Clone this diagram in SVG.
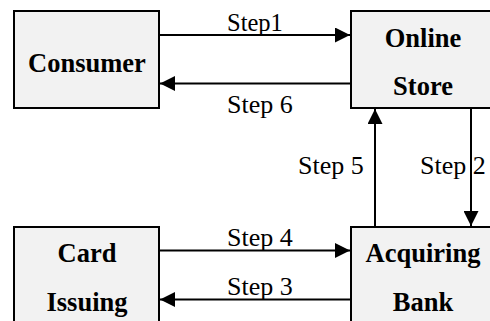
<svg xmlns="http://www.w3.org/2000/svg" width="490" height="321" viewBox="0 0 490 321">
<style>
.box{fill:#f2f2f2;stroke:#000;stroke-width:2}
.nt{font-weight:bold;font-size:26.5px;text-anchor:middle;fill:#000}
.lb{font-size:26px;fill:#000}
.cn{stroke:#000;stroke-width:2;fill:none;marker-end:url(#ah)}
</style>
<defs>
<marker id="ah" viewBox="0 0 15 15" refX="15" refY="7.5" markerWidth="15" markerHeight="15" markerUnits="userSpaceOnUse" orient="auto">
<path d="M0,0 L15,7.5 L0,15 z" fill="#000"/>
</marker>
</defs>
<rect x="0" y="0" width="490" height="321" fill="#fff"/>
<g font-family="'Liberation Serif', 'Times New Roman', 'DejaVu Serif', serif">
<g id="consumer">
<rect class="box" x="14" y="11" width="145" height="97"/>
<text class="nt" x="87" y="71.5">Consumer</text>
</g>
<g id="online-store">
<rect class="box" x="351" y="11" width="145" height="97"/>
<text class="nt" x="423" y="46.5">Online</text>
<text class="nt" x="423" y="95">Store</text>
</g>
<g id="card-issuing">
<rect class="box" x="14" y="227" width="145" height="97"/>
<text class="nt" x="87" y="262">Card</text>
<text class="nt" x="87" y="311">Issuing</text>
</g>
<g id="acquiring-bank">
<rect class="box" x="351" y="227" width="145" height="97"/>
<text class="nt" x="423" y="262">Acquiring</text>
<text class="nt" x="423" y="311">Bank</text>
</g>
<g id="connectors">
<line class="cn" x1="159" y1="35" x2="350" y2="35"/>
<line class="cn" x1="351" y1="83.5" x2="160" y2="83.5"/>
<line class="cn" x1="471" y1="108" x2="471" y2="226"/>
<line class="cn" x1="375" y1="227" x2="375" y2="109"/>
<line class="cn" x1="159" y1="250.5" x2="350" y2="250.5"/>
<line class="cn" x1="351" y1="299.5" x2="160" y2="299.5"/>
<text class="lb" x="227" y="31" font-size="24.5px" style="font-size:24.5px">Step1</text>
<text class="lb" x="227" y="113">Step 6</text>
<text class="lb" x="298" y="174">Step 5</text>
<text class="lb" x="420" y="174">Step 2</text>
<text class="lb" x="227" y="246">Step 4</text>
<text class="lb" x="227" y="295">Step 3</text>
</g>
</g>
</svg>
